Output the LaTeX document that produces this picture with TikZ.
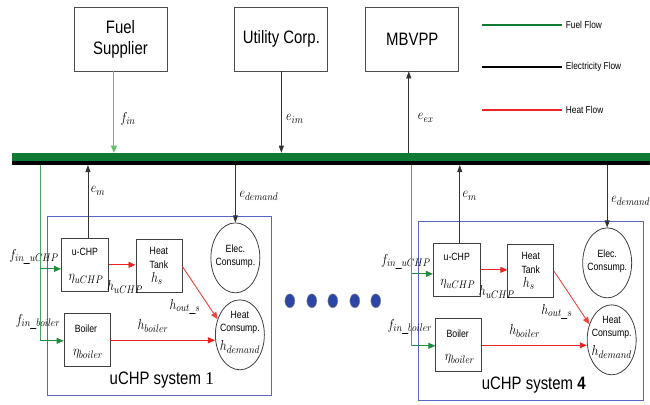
\documentclass[tikz,border=0pt]{standalone}
\usepackage{graphicx}
\usepackage{fontspec}
\setmainfont{Liberation Sans}[FakeStretch=0.83]
\newfontfamily\serifnum{Liberation Serif}
\usetikzlibrary{arrows.meta,shapes.geometric}
\definecolor{busgreen}{RGB}{16,122,52}
\definecolor{fuelgreen}{RGB}{30,140,60}
\definecolor{lightgreen}{RGB}{100,190,110}
\definecolor{heatred}{RGB}{235,35,35}
\definecolor{sysblue}{RGB}{90,100,195}
\definecolor{dotblue}{RGB}{45,70,165}
\newcommand\mlab[1]{\scalebox{0.85}[1]{$#1$}}
\newcommand\uchpsys[4]{%
\begin{scope}[shift={(#2,#3)}]
\node[sysbox] (#1box) at (159.5,306) {};
\node[unit] (#1chp) at (85,265) {};
\node[small] (#1chpt) at (85,252) {u-CHP};
\node[mathl] (#1eta) at (86,279) {\mlab{\eta_{uCHP}}};
\node[unit,minimum width=46pt] (#1tank) at (159,266.5) {};
\node[small] (#1tankt) at (159,258) {Heat\\Tank};
\node[mathl] (#1hs) at (157,279) {\mlab{h_s}};
\node[unit,minimum width=46pt] (#1boil) at (87,340.5) {};
\node[small] (#1boilt) at (86,329) {Boiler};
\node[mathl] (#1etab) at (88,354) {\mlab{\eta_{boiler}}};
\node[cons] (#1elec) at (235.5,258) {};
\node[small] (#1elect) at (235.5,256.5) {Elec.\\Consump.};
\node[cons] (#1heat) at (240,335) {};
\node[small] (#1heatt) at (240,322.5) {Heat\\Consump.};
\node[mathl] (#1hd) at (240,347) {\mlab{h_{demand}}};
\node[big] (#1title) at (162,380) {uCHP system #4};
\node[mathl] (#1fu) at (34,257) {\mlab{f_{in\_uCHP}}};
\node[mathl] (#1fb) at (38,322) {\mlab{f_{in\_boiler}}};
\node[mathl] (#1hu) at (125,287) {\mlab{h_{uCHP}}};
\node[mathl] (#1ho) at (185,307) {\mlab{h_{out\_s}}};
\node[mathl] (#1hb) at (153,326) {\mlab{h_{boiler}}};
\node[mathl] (#1emt) at (98,191) {\mlab{e_m}};
\node[mathl] (#1edt) at (259,196) {\mlab{e_{demand}}};
\coordinate (#1g) at (40,269);
\coordinate (#1gb) at (40,341);
\draw[fuelline] (#1g |- bus.south) -- (#1gb);
\draw[fuelarr] (#1g) -- (#1g -| #1chp.west);
\draw[fuelarr] (#1gb) -- (#1gb -| #1boil.west);
\coordinate (#1em) at ([xshift=3pt]#1chp.north);
\draw[elec] (#1em) -- (#1em |- bus.south);
\draw[elec] (#1elec.north |- bus.south) -- (#1elec.north);
\draw[heatarr] (#1chp.east) -- (#1tank.west |- #1chp.east);
\draw[heatarr,draw=heatred!85] (#1tank.east) -- (#1heat.145);
\draw[heatarr] (#1boil.east) -- (#1boil.east -| #1heat.west);
\end{scope}}
\begin{document}
\begin{tikzpicture}[x=1pt,y=-1pt,
  big/.style={font=\fontsize{18}{20}\selectfont,inner sep=0pt},
  topbox/.style={draw=black!70,line width=0.8pt,minimum width=93pt,minimum height=64pt,inner sep=0pt,align=center,font=\fontsize{18}{21}\selectfont},
  unit/.style={draw=black!75,line width=0.8pt,minimum width=47pt,minimum height=53pt,inner sep=0pt},
  cons/.style={ellipse,draw=black!75,line width=0.8pt,minimum width=49pt,minimum height=70pt,inner sep=0pt},
  small/.style={font=\fontsize{10.5}{13.5}\selectfont,inner sep=0pt,align=center},
  legtext/.style={font=\fontsize{10}{12}\selectfont,inner sep=0pt,anchor=west},
  mathl/.style={font=\fontsize{15}{15}\selectfont,inner sep=0pt},
  elec/.style={draw=black!80,line width=0.7pt,-{Triangle[length=7pt,width=5pt]}},
  fuelarr/.style={draw=fuelgreen,line width=0.9pt,-{Triangle[length=7pt,width=6pt]}},
  fuelline/.style={draw=fuelgreen!80,line width=0.8pt},
  heatarr/.style={draw=heatred,line width=0.9pt,-{Triangle[length=7pt,width=6pt]}},
  sysbox/.style={draw=sysblue,line width=0.9pt,minimum width=225pt,minimum height=179pt,inner sep=0pt},
  dot/.style={ellipse,fill=dotblue,draw=black!40,minimum width=10pt,minimum height=14pt,inner sep=0pt},
  legline/.style={line width=2.6pt},
  bus/.style={minimum width=638pt,minimum height=12pt,inner sep=0pt,fill=busgreen,
    path picture={\fill[black] (path picture bounding box.south west) rectangle ([yshift=4pt]path picture bounding box.south east);}}]
\path[fill=white] (0,0) rectangle (650,405);
% top boxes
\node[topbox] (fuel) at (120.5,39) {Fuel\\Supplier};
\node[topbox] (util) at (281.5,39) {Utility Corp.};
\node[topbox] (mbvpp) at (412.5,39) {MBVPP};
% bus
\node[bus] (bus) at (331,159) {};
% top connectors
\coordinate (fa) at ([xshift=-6.5pt]fuel.south);
\draw[fuelarr,draw=lightgreen] (fa) -- (fa |- bus.north);
\draw[elec] (util.south) -- (util.south |- bus.north);
\coordinate (ma) at ([xshift=-3.5pt]mbvpp.south);
\draw[elec] (ma |- bus.north) -- (ma);
\node[mathl] (fin) at (128,119) {\mlab{f_{in}}};
\node[mathl] (eim) at (295,119) {\mlab{e_{im}}};
\node[mathl] (eex) at (426,118) {\mlab{e_{ex}}};
% legend
\node[legtext] (lf) at (566,25) {Fuel Flow};
\node[legtext] (le) at (566,67) {Electricity Flow};
\node[legtext] (lh) at (566,110) {Heat Flow};
\coordinate (lf0) at (482,25);
\coordinate (le0) at (482,67);
\coordinate (lh0) at (482,110);
\draw[legline,busgreen] (lf0) -- ([xshift=-4pt]lf.west);
\draw[legline,black] (le0) -- ([xshift=-4pt]le.west);
\draw[legline,heatred] (lh0) -- ([xshift=-4pt]lh.west);
% systems
\uchpsys{a}{0}{0}{{\serifnum 1}}
\uchpsys{b}{372}{5}{\textbf{4}}
% dots
\node[dot] (d1) at (290,301) {};
\node[dot] (d2) at (312,301) {};
\node[dot] (d3) at (333,301) {};
\node[dot] (d4) at (355,301) {};
\node[dot] (d5) at (376,301) {};
\end{tikzpicture}
\end{document}
